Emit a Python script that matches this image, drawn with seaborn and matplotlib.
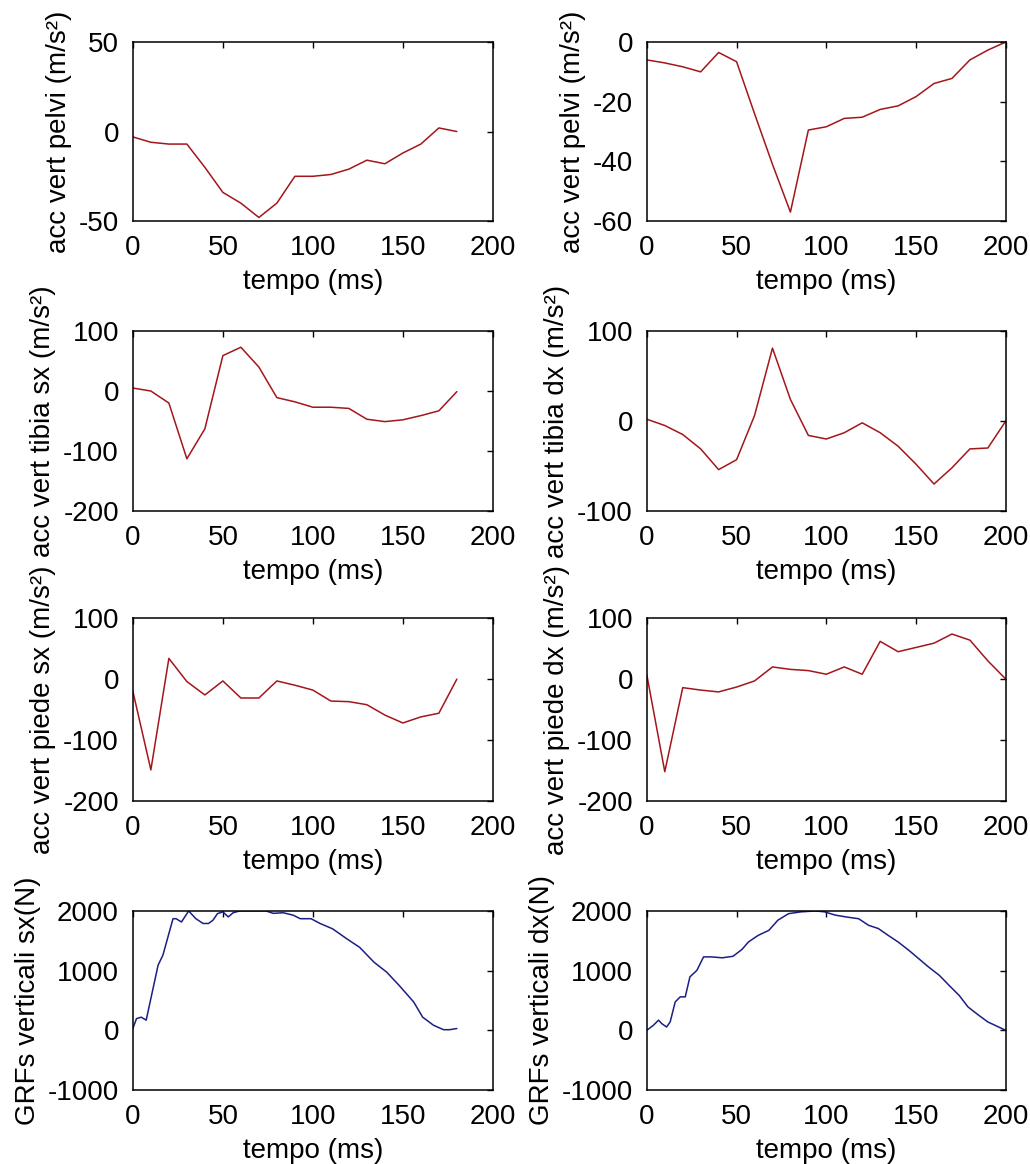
import matplotlib
matplotlib.use("Agg")
import matplotlib.pyplot as plt
import seaborn as sns
import pandas as pd

# tempo (ms) axes
tempo_sx = [0, 10, 20, 30, 40, 50, 60, 70, 80, 90, 100, 110, 120, 130, 140, 150, 160, 170, 180]
tempo_dx = [0, 10, 20, 30, 40, 50, 60, 70, 80, 90, 100, 110, 120, 130, 140, 150, 160, 170, 180, 190, 200]

# acc vert pelvi (m/s^2)
pelvi_sx = [-3, -6, -7, -7, -20, -34, -40, -48, -40, -25, -25, -24, -21, -16, -18, -12, -7, 2, 0]
pelvi_dx = [-6, -7, -8.3, -10, -3.5, -6.6, -24, -41, -57, -29.5, -28.4, -25.6, -25.2, -22.6, -21.4,
            -18.3, -13.9, -12.2, -6, -2.7, 0]

# acc vert tibia
tibia_sx = [5, 0, -20, -113, -63, 59, 73, 40, -11, -18, -27, -27, -29, -47, -51, -48, -41, -33, -1]
tibia_dx = [2, -5, -15, -31, -54, -43, 6, 81, 24, -16, -20, -13, -2, -13, -28, -48, -70, -52, -31, -30, 0]

# acc vert piede
piede_sx = [-20, -149, 34, -4, -26, -3, -31, -31, -3, -10, -18, -36, -37, -42, -59, -72, -62, -56, 0]
piede_dx = [7, -152, -14, -18, -21, -13, -3, 20, 16, 14, 8, 20, 8, 62, 45, 52, 59, 74, 64, 30, 0]

# GRFs verticali (N)
grf_t_sx = [0, 2, 4.6, 7.4, 10.2, 14, 16.7, 19.5, 22.3, 24, 27, 31, 35, 39, 42, 44.5, 47, 50, 53, 55.7,
            59.4, 67, 74, 78, 83.5, 89, 93, 99, 104, 111, 119, 126, 134, 141, 148, 156, 161, 167,
            172.6, 176, 180]
grf_sx = [30, 195, 220, 170, 560, 1090, 1260, 1565, 1870, 1870, 1815, 2000, 1870, 1790, 1790, 1845,
          1955, 1985, 1900, 1970, 2000, 2000, 2000, 1960, 1970, 1930, 1870, 1870, 1790, 1700, 1530,
          1390, 1140, 975, 750, 475, 220, 85, 10, 10, 30]
grf_t_dx = [0, 3.7, 6.5, 8.4, 11, 13, 15.8, 18.6, 21.4, 24, 27.9, 31.6, 36, 42, 48, 53, 56.6, 62, 68,
            73, 79, 86, 94, 99, 105, 112, 118, 123.5, 129, 134.5, 140, 146, 151.5, 157, 163, 168.5,
            174, 179, 185, 190, 196, 200]
grf_dx = [0, 85, 170, 110, 55, 140, 475, 560, 560, 895, 1005, 1230, 1230, 1215, 1240, 1355, 1480,
          1590, 1675, 1845, 1955, 1985, 2000, 1985, 1930, 1895, 1870, 1760, 1705, 1590, 1480, 1340,
          1200, 1060, 920, 750, 585, 390, 250, 140, 55, 0]

ylabels = [
    ["acc vert pelvi (m/s²)", "acc vert pelvi (m/s²)"],
    ["acc vert tibia sx (m/s²)", "acc vert tibia dx (m/s²)"],
    ["acc vert piede sx (m/s²)", "acc vert piede dx (m/s²)"],
    ["GRFs verticali sx(N)", "GRFs verticali dx(N)"],
]
yticks = [
    [[-50, 0, 50], [-60, -40, -20, 0]],
    [[-200, -100, 0, 100], [-100, 0, 100]],
    [[-200, -100, 0, 100], [-200, -100, 0, 100]],
    [[-1000, 0, 1000, 2000], [-1000, 0, 1000, 2000]],
]
xticks = [0, 50, 100, 150, 200]

red = "#a3161a"
blue = "#1b1f85"

panels = [
    [(tempo_sx, pelvi_sx, red), (tempo_dx, pelvi_dx, red)],
    [(tempo_sx, tibia_sx, red), (tempo_dx, tibia_dx, red)],
    [(tempo_sx, piede_sx, red), (tempo_dx, piede_dx, red)],
    [(grf_t_sx, grf_sx, blue), (grf_t_dx, grf_dx, blue)],
]

sns.set_style("white")
plt.rcParams["font.family"] = ["Liberation Sans", "DejaVu Sans"]
plt.rcParams["axes.unicode_minus"] = False

fig = plt.figure(figsize=(10.3, 11.64), dpi=100)

lefts = [0.129, 0.628]
widths = [0.3495, 0.3485]
bottoms = [0.8101, 0.561, 0.3119, 0.0636]
heights = [0.1538, 0.1546, 0.157, 0.1538]

for r in range(4):
    for c in range(2):
        ax = fig.add_axes([lefts[c], bottoms[r], widths[c], heights[r]])
        x, y, col = panels[r][c]
        df = pd.DataFrame({"t": x, "v": y})
        sns.lineplot(data=df, x="t", y="v", ax=ax, color=col, linewidth=1.1)
        yt = yticks[r][c]
        ax.set_xlim(0, 200)
        ax.set_ylim(yt[0], yt[-1])
        ax.set_xticks(xticks)
        ax.set_yticks(yt)
        ax.tick_params(direction="in", length=4, width=1, top=True, right=True,
                       labelsize=20, pad=10, colors="black")
        for s in ax.spines.values():
            s.set_color("black")
            s.set_linewidth(1.1)
        ax.set_xlabel("tempo (ms)", fontsize=20, labelpad=6, color="black")
        ax.set_ylabel(ylabels[r][c], fontsize=20, labelpad=5, color="black")

fig.savefig("out.png", dpi=100, facecolor="white")
